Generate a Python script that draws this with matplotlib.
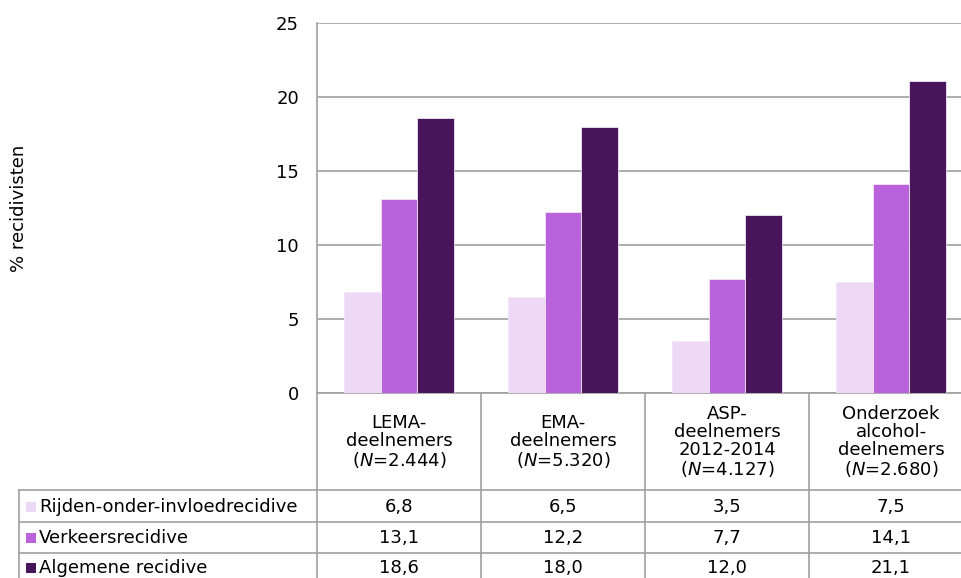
import matplotlib
matplotlib.use("Agg")
import matplotlib.pyplot as plt
import numpy as np

categories = ["LEMA-\ndeelnemers\n($\\it{N}$=2.444)",
              "EMA-\ndeelnemers\n($\\it{N}$=5.320)",
              "ASP-\ndeelnemers\n2012-2014\n($\\it{N}$=4.127)",
              "Onderzoek\nalcohol-\ndeelnemers\n($\\it{N}$=2.680)"]
series_names = ["Rijden-onder-invloedrecidive", "Verkeersrecidive", "Algemene recidive"]
rijden = [6.8, 6.5, 3.5, 7.5]
verkeer = [13.1, 12.2, 7.7, 14.1]
algemeen = [18.6, 18.0, 12.0, 21.1]
colors = ["#EDD9F5", "#B962DC", "#48145A"]
grid_col = "#A0A0A0"

W, H = 961, 578
plt.rcParams['font.family'] = ['DejaVu Sans']
plt.rcParams['mathtext.fontset'] = 'dejavusans'
fig = plt.figure(figsize=(W / 100, H / 100), dpi=100)
fs = 13

# plot area in pixels: left 317, right ~973 (cut off), top 23, bottom 393
cat_w = 164
ax_left, ax_top, ax_bot = 317, 23, 393
ax_right = ax_left + 4 * cat_w
ax = fig.add_axes([ax_left / W, 1 - ax_bot / H, (ax_right - ax_left) / W, (ax_bot - ax_top) / H])

x = np.arange(len(categories))
bw = 0.222
data = [rijden, verkeer, algemeen]
for i, vals in enumerate(data):
    ax.bar(x + (i - 1) * bw, vals, bw, color=colors[i], edgecolor="#F2E6F7", linewidth=0.6, zorder=3)

ax.set_xlim(-0.5, 3.5)
ax.set_ylim(0, 25)
ax.set_yticks(range(0, 26, 5))
ax.set_xticks([])
ax.yaxis.grid(True, color=grid_col, linewidth=1.2, zorder=0)
for s in ["top", "right"]:
    ax.spines[s].set_visible(False)
for s in ["left", "bottom"]:
    ax.spines[s].set_color(grid_col)
    ax.spines[s].set_linewidth(1.2)
ax.tick_params(axis="y", length=0, pad=13, labelsize=fs, colors="black")
fig.text(19 / W, 1 - 208 / H, "% recidivisten", rotation=90, ha="center", va="center", fontsize=fs)

# data table below the plot (y in image pixels, from the top)
tab_left = 19
tax = fig.add_axes([tab_left / W, 0, (ax_right - tab_left) / W, 1])
x0 = -0.5 - (ax_left - tab_left) / cat_w
tax.set_xlim(x0, 3.5)
tax.set_ylim(H, 0)
tax.axis("off")

row_lines = [490, 522, 553]
lc = dict(color=grid_col, linewidth=1.2, clip_on=False)
for b in [0.5, 1.5, 2.5]:
    tax.plot([b, b], [ax_bot, H], **lc)
tax.plot([-0.5, -0.5], [ax_bot, H], **lc)
tax.plot([x0, x0], [row_lines[0], H], **lc)
for ry in row_lines:
    tax.plot([x0, 3.5], [ry, ry], **lc)

for i, c in enumerate(categories):
    tax.text(x[i], 442, c, ha="center", va="center", fontsize=fs, linespacing=1.02)

row_centers = [507, 538, 568]
for r, vals in enumerate(data):
    yc = row_centers[r]
    for i, v in enumerate(vals):
        tax.text(x[i], yc, f"{v:.1f}".replace(".", ","), ha="center", va="center", fontsize=fs)
    tax.scatter([x0 + 12 / cat_w], [yc], marker="s", s=55, color=colors[r], linewidths=0)
    tax.text(x0 + 20 / cat_w, yc, series_names[r], ha="left", va="center", fontsize=fs)

fig.savefig("out.png", dpi=100)
